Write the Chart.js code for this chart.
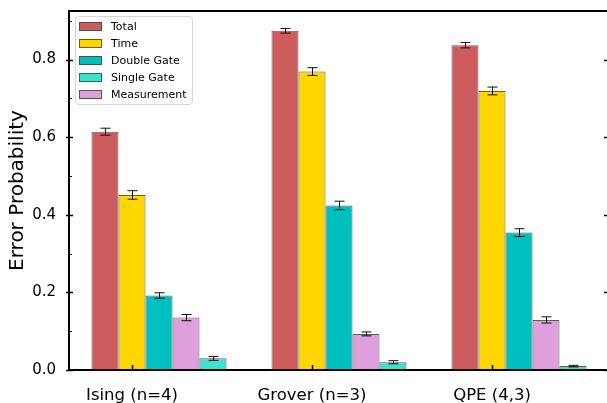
<!DOCTYPE html>
<html>
<head>
<meta charset="utf-8">
<script src="https://cdn.jsdelivr.net/npm/chart.js@4.4.1/dist/chart.umd.min.js"></script>
<style>
html,body{margin:0;padding:0;background:#fff;overflow:hidden;}
#wrap{position:absolute;left:0;top:0;width:625px;height:403px;}
</style>
</head>
<body>
<div id="wrap"><canvas id="c" width="625" height="403"></canvas></div>
<script>
// values
const categories = ["Ising (n=4)", "Grover (n=3)", "QPE (4,3)"];
const total = [0.614, 0.874, 0.837];
const totalErr = [0.009, 0.006, 0.007];
const time = [0.451, 0.769, 0.719];
const timeErr = [0.011, 0.010, 0.010];
const doubleGate = [0.192, 0.424, 0.354];
const doubleGateErr = [0.007, 0.011, 0.010];
const measurement = [0.135, 0.093, 0.129];
const measurementErr = [0.008, 0.005, 0.008];
const singleGate = [0.030, 0.020, 0.010];
const singleGateErr = [0.005, 0.004, 0.002];
const yTicks = [0, 0.2, 0.4, 0.6, 0.8];
const yMinorTicks = [0.1, 0.3, 0.5, 0.7, 0.9];
const legendOrder = ["Total", "Time", "Double Gate", "Single Gate", "Measurement"];

const FONT = "'DejaVu Sans', sans-serif";
Chart.defaults.color = "#000";
Chart.defaults.font.family = FONT;

const series = [
  {label: "Total", data: total, err: totalErr, color: "#CD5C5C"},
  {label: "Time", data: time, err: timeErr, color: "#FFD700"},
  {label: "Double Gate", data: doubleGate, err: doubleGateErr, color: "#00BFBF"},
  {label: "Measurement", data: measurement, err: measurementErr, color: "#DDA0DD"},
  {label: "Single Gate", data: singleGate, err: singleGateErr, color: "#40E0D0"},
];

const errorBars = {
  id: "errorBars",
  afterDatasetsDraw(chart){
    const ctx = chart.ctx, y = chart.scales.y;
    ctx.save();
    ctx.strokeStyle = "#111";
    ctx.lineWidth = 1;
    series.forEach((s, i) => {
      chart.getDatasetMeta(i).data.forEach((bar, j) => {
        const x = Math.round(bar.x) + 0.5;
        const t = y.getPixelForValue(s.data[j] + s.err[j]);
        const b = y.getPixelForValue(s.data[j] - s.err[j]);
        ctx.beginPath();
        ctx.moveTo(x, t); ctx.lineTo(x, b);
        ctx.moveTo(x - 5, t); ctx.lineTo(x + 5, t);
        ctx.moveTo(x - 5, b); ctx.lineTo(x + 5, b);
        ctx.stroke();
      });
    });
    ctx.restore();
  }
};

const frame = {
  id: "frame",
  afterDraw(chart){
    const ctx = chart.ctx, a = chart.chartArea, y = chart.scales.y;
    ctx.save();
    ctx.strokeStyle = "#000";
    // spines
    ctx.lineWidth = 2;
    ctx.strokeRect(a.left, a.top, a.right - a.left, a.bottom - a.top);
    // y ticks, both sides
    ctx.lineWidth = 1.5;
    ctx.beginPath();
    yTicks.forEach(v => {
      const p = Math.round(y.getPixelForValue(v)) + 0.5;
      ctx.moveTo(a.left - 3, p); ctx.lineTo(a.left + 4, p);
      ctx.moveTo(a.right - 5, p); ctx.lineTo(a.right, p);
    });
    ctx.stroke();
    ctx.lineWidth = 1;
    ctx.beginPath();
    yMinorTicks.forEach(v => {
      const p = Math.round(y.getPixelForValue(v)) + 0.5;
      ctx.moveTo(a.left, p); ctx.lineTo(a.left + 3, p);
    });
    ctx.stroke();
    // x ticks under the second bar of each group
    ctx.lineWidth = 1.5;
    ctx.beginPath();
    chart.getDatasetMeta(1).data.forEach(bar => {
      const x = Math.round(bar.x) + 0.5;
      ctx.moveTo(x, a.bottom); ctx.lineTo(x, a.bottom - 5);
    });
    ctx.stroke();

    // legend
    const lx = 75.5, ly = 16.5, lw = 117, lh = 88;
    ctx.fillStyle = "rgba(255,255,255,0.85)";
    ctx.strokeStyle = "#d6d6d6";
    ctx.lineWidth = 1;
    ctx.beginPath();
    ctx.roundRect(lx, ly, lw, lh, 3);
    ctx.fill(); ctx.stroke();
    ctx.font = "11px " + FONT;
    ctx.textBaseline = "middle";
    legendOrder.forEach((name, k) => {
      const s = series.find(d => d.label === name);
      const cy = 26.5 + 17 * k;
      ctx.fillStyle = s.color;
      ctx.fillRect(79.5, cy - 4, 22, 8);
      ctx.strokeStyle = "rgba(40,40,40,0.75)";
      ctx.strokeRect(79.5, cy - 4, 22, 8);
      ctx.fillStyle = "#000";
      ctx.fillText(name, 111, cy + 0.5);
    });
    ctx.restore();
  }
};

new Chart(document.getElementById("c"), {
  type: "bar",
  data: {
    labels: categories,
    datasets: series.map(s => ({
      label: s.label,
      data: s.data,
      backgroundColor: s.color,
      borderColor: "rgba(40,40,40,0.75)",
      borderWidth: 1,
      borderSkipped: false,
      categoryPercentage: 0.75,
      barPercentage: 1.0,
    }))
  },
  options: {
    responsive: false,
    animation: false,
    devicePixelRatio: 1,
    layout: {padding: {left: 0, top: 11, right: 16, bottom: 0}},
    plugins: {legend: {display: false}, tooltip: {enabled: false}},
    scales: {
      x: {
        grid: {display: false},
        border: {display: false},
        ticks: {font: {size: 16.5}, padding: 8, labelOffset: -27, maxRotation: 0},
        afterFit: s => { s.height = 33; s.paddingLeft = 0; s.paddingRight = 0; }
      },
      y: {
        min: 0,
        max: 0.925,
        grid: {display: false},
        border: {display: false},
        afterBuildTicks: s => { s.ticks = yTicks.map(v => ({value: v})); },
        ticks: {font: {size: 15}, padding: 5, callback: v => Number(v).toFixed(1)},
        title: {display: true, text: "Error Probability", font: {size: 20}, padding: {top: 6, bottom: 0}},
        afterFit: s => { s.width = 69; s.paddingTop = 0; s.paddingBottom = 0; }
      }
    }
  },
  plugins: [errorBars, frame]
});
</script>
</body>
</html>
